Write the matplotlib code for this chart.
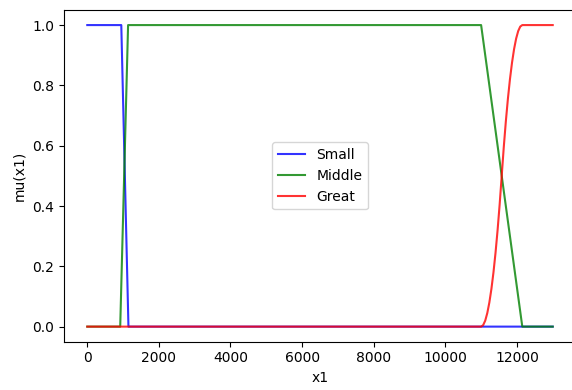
import matplotlib
matplotlib.use("Agg")
import matplotlib.pyplot as plt

# Membership function breakpoints for variable x1
small_x = [0, 950, 1150, 13000]
small_mu = [1.0, 1.0, 0.0, 0.0]

middle_x = [0, 920, 1140, 11000, 12150, 13000]
middle_mu = [0.0, 0.0, 1.0, 1.0, 0.0, 0.0]

great_x = [0, 11000, 11057.5, 11115, 11172.5, 11230, 11287.5, 11345, 11402.5,
           11460, 11517.5, 11575, 11632.5, 11690, 11747.5, 11805, 11862.5,
           11920, 11977.5, 12035, 12092.5, 12150, 13000]
great_mu = [0.0, 0.0, 0.005, 0.02, 0.045, 0.08, 0.125, 0.18, 0.245,
            0.32, 0.405, 0.5, 0.595, 0.68, 0.755, 0.82, 0.875,
            0.92, 0.955, 0.98, 0.995, 1.0, 1.0]

fig = plt.figure(figsize=(5.72, 3.90), dpi=100)
ax = fig.add_axes([64 / 572, (390 - 341.7) / 390, 512 / 572, 331.7 / 390])

ax.plot(small_x, small_mu, 'b', linewidth=1.5, alpha=0.8, label='Small')
ax.plot(middle_x, middle_mu, 'g', linewidth=1.5, alpha=0.8, label='Middle')
ax.plot(great_x, great_mu, 'r', linewidth=1.5, alpha=0.8, label='Great')

ax.set_xlabel('x1')
ax.set_ylabel('mu(x1)')
ax.legend(loc='center')

fig.savefig('out.png', dpi=100)
